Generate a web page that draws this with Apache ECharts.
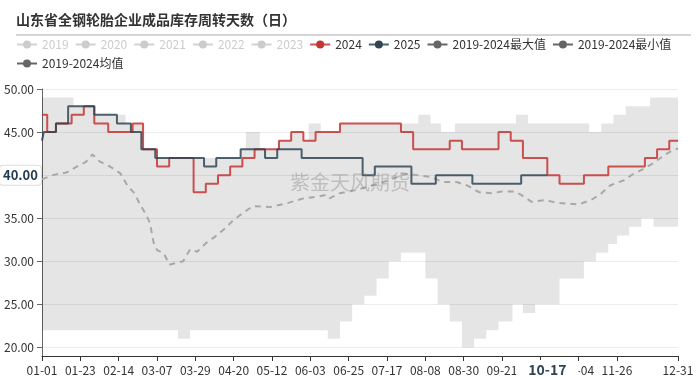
<!DOCTYPE html>
<html><head><meta charset="utf-8">
<script src="https://cdn.jsdelivr.net/npm/echarts@6/dist/echarts.min.js"></script>
<style>html,body{margin:0;padding:0;background:#fff}#c{width:700px;height:380px}</style>
</head><body><div id="c"></div>
<script>
// x categories: one per calendar day (leap year layout)
const monthDays = [31,29,31,30,31,30,31,31,30,31,30,31];
const categories = [];
monthDays.forEach((n, m) => { for (let d = 1; d <= n; d++) categories.push(String(m + 1).padStart(2, '0') + '-' + String(d).padStart(2, '0')); });

const yTicks = [20, 25, 30, 35, 40, 45, 50];
const hiddenYears = ['2019', '2020', '2021', '2022', '2023'];

// 2024: [day index, value] at each change
const s2024 = [[0,47],[3,45],[8,46],[17,47],[24,48],[30,46],[38,45],[52,46],[58,43],[66,41],[73,42],[87,38],[94,39],[101,40],[108,41],[115,42],[122,43],[136,44],[143,45],[150,44],[157,45],[171,46],[206,45],[213,43],[234,44],[241,43],[262,45],[269,44],[276,42],[290,40],[297,39],[311,40],[325,41],[346,42],[353,43],[360,44],[365,44]];
// 2025
const s2025 = [[0,44],[1,45],[8,46],[15,48],[30,47],[43,46],[51,45],[57,43],[65,42],[93,41],[100,42],[114,43],[128,42],[135,43],[149,42],[184,40],[191,41],[212,39],[226,40],[247,39],[275,40],[290,40]];
// 2019-2024 average
const sAvg = [[0,39.5],[6,40],[14,40.3],[20,41],[25,41.5],[29,42.4],[33,41.6],[39,41],[45,40.2],[49,38.8],[53,37.9],[56,36.7],[60,35.3],[62,34.4],[64,32.2],[66,31.3],[70,30.9],[73,29.6],[81,30],[85,31.4],[89,31.1],[94,32.1],[99,32.8],[105,33.8],[110,34.8],[116,35.7],[121,36.4],[131,36.3],[140,36.7],[150,37.3],[158,37.5],[163,37.7],[165,37.3],[171,37.9],[181,38.3],[186,38.6],[196,39.2],[204,39.8],[207,40.2],[215,40],[223,39.8],[230,39.2],[238,39.2],[244,38.8],[251,38],[258,37.9],[264,38.1],[271,38.1],[275,37.7],[281,36.9],[289,37.1],[295,36.8],[301,36.7],[308,36.6],[315,37.1],[320,37.7],[326,38.8],[334,39.4],[339,40.1],[345,40.7],[351,41.4],[357,42.3],[362,42.9],[365,43.1]];
// 2019-2024 max / min band (change days shared)
const bandDays = [0,18,30,48,58,65,78,85,114,117,125,136,143,150,153,160,164,171,178,185,192,199,206,216,220,223,227,229,234,237,241,248,255,262,270,272,276,279,283,297,311,314,318,321,325,328,330,335,337,344,349,351,365];
const bandMax  = [49,48,47,46,43,42,42,42,43,45,43,44,45,44,46,45,45,46,46,46,46,46,46,47,47,46,46,45,45,46,46,46,46,46,46,47,47,46,46,46,46,45,45,46,46,47,47,48,48,48,49,49,49];
const bandMin  = [22,22,22,22,22,22,21,22,22,22,22,22,22,22,22,22,21,23,25,26,28,30,31,31,28,28,25,25,23,23,20,21,22,23,25,25,24,24,25,28,30,30,31,31,32,32,33,33,34,35,35,34,34];

const toData = arr => arr.map(([d, v]) => [categories[d], v]);
const FONT = '"Noto Sans CJK SC", sans-serif';

const series = hiddenYears.map(y => ({ name: y, type: 'line', data: [], symbol: 'circle', showSymbol: false }));
series.push(
  { name: '2019-2024最小值', type: 'line', stack: 'band', step: 'end', symbol: 'circle', showSymbol: false, silent: true,
    color: '#666', lineStyle: { width: 0 },
    data: bandDays.map((d, i) => [categories[d], bandMin[i]]) },
  { name: '2019-2024最大值', type: 'line', stack: 'band', step: 'end', symbol: 'circle', showSymbol: false, silent: true,
    color: '#666', lineStyle: { width: 0 }, areaStyle: { color: 'rgba(0,0,0,0.1)', opacity: 1 },
    data: bandDays.map((d, i) => [categories[d], bandMax[i] - bandMin[i]]) },
  { name: '2019-2024均值', type: 'line', symbol: 'circle', showSymbol: false, silent: true, color: '#666',
    lineStyle: { color: '#a8a8a8', width: 2, type: [6, 5] }, data: toData(sAvg) },
  { name: '2024', type: 'line', step: 'end', symbol: 'circle', showSymbol: false, color: '#c23531',
    lineStyle: { width: 2, opacity: 0.85 }, data: toData(s2024) },
  { name: '2025', type: 'line', step: 'end', symbol: 'circle', showSymbol: false, color: '#2f4554',
    lineStyle: { width: 2, opacity: 0.85 }, data: toData(s2025) }
);

const grayItem = name => ({ name, itemStyle: { color: '#666' }, lineStyle: { color: '#666', width: 2, type: 'solid', opacity: 1 } });

const chart = echarts.init(document.getElementById('c'), null, { renderer: 'canvas' });
chart.setOption({
  animation: false,
  textStyle: { fontFamily: FONT },
  title: { text: '山东省全钢轮胎企业成品库存周转天数（日）', left: 16, top: 13, padding: 0,
    textStyle: { fontSize: 14, fontWeight: 'bold', color: '#333', fontFamily: FONT } },
  graphic: [
    { type: 'line', shape: { x1: 16, y1: 35, x2: 691, y2: 35 }, style: { stroke: '#aaa', lineWidth: 1 }, silent: true },
    { type: 'text', x: 290, y: 172, z: 100, silent: true,
      style: { text: '紫金天风期货', font: '20px ' + FONT, fill: 'rgba(130,130,130,0.4)' } }
  ],
  legend: {
    left: 16, top: 38, width: 690, itemWidth: 20, itemHeight: 10, itemGap: 6, padding: 0,
    textStyle: { fontSize: 12, color: '#333', fontFamily: FONT, lineHeight: 13 }, inactiveColor: '#ccc',
    selected: Object.fromEntries(hiddenYears.map(y => [y, false])),
    data: [...hiddenYears, '2024', '2025', grayItem('2019-2024最大值'), grayItem('2019-2024最小值'), grayItem('2019-2024均值')]
  },
  grid: { left: 42, right: 22, top: 89, bottom: 24 },
  xAxis: {
    type: 'category', data: categories, boundaryGap: false,
    axisLine: { lineStyle: { color: '#333' } },
    axisTick: { interval: 21, length: 5, lineStyle: { color: '#333' } },
    axisLabel: { interval: 21, showMaxLabel: true, color: '#333', fontSize: 12, margin: 8 },
    splitLine: { show: false },
    axisPointer: { show: true, status: 'show', value: categories.indexOf('10-17'), type: 'line', triggerTooltip: false,
      lineStyle: { color: 'rgba(0,0,0,0)', width: 0 },
      label: { show: true, backgroundColor: '#fff', color: '#2f4554', fontWeight: 'bold', fontSize: 14, padding: [3, 12], margin: 6 } }
  },
  yAxis: {
    type: 'value', min: 19, max: 50,
    axisLine: { show: true, lineStyle: { color: '#666' } },
    axisTick: { show: true, customValues: yTicks, length: 5, lineStyle: { color: '#666' } },
    axisLabel: { customValues: yTicks, formatter: v => Number(v).toFixed(2), color: '#333', fontSize: 12 },
    splitLine: { show: true, lineStyle: { color: '#ececec' } },
    axisPointer: { show: true, status: 'show', value: 40, type: 'line', triggerTooltip: false,
      lineStyle: { color: 'rgba(0,0,0,0)', width: 0 },
      label: { show: true, formatter: p => Number(p.value).toFixed(2), backgroundColor: '#fff', color: '#1f3a52',
        fontWeight: 'bold', fontSize: 13, padding: [3, 3], borderColor: '#ddd', borderWidth: 1, margin: 4 } }
  },
  series
});
</script></body></html>
